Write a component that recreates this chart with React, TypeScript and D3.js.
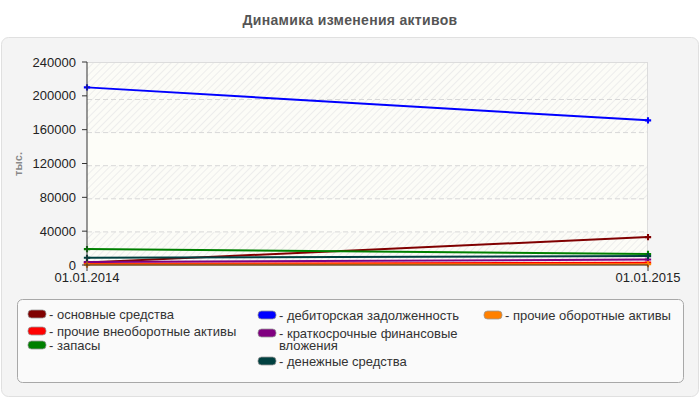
import React from "react";
import * as d3 from "d3";

const dates = ["01.01.2014", "01.01.2015"];
const yTicks = [0, 40000, 80000, 120000, 160000, 200000, 240000];

const seriesNames = [
  "основные средства",
  "прочие внеоборотные активы",
  "запасы",
  "дебиторская задолженность",
  "краткосрочные финансовые вложения",
  "денежные средства",
  "прочие оборотные активы",
];
const seriesColors = ["#800000", "#ff0000", "#008000", "#0000ff", "#800080", "#004040", "#ff8000"];

const fixedAssets = [3000, 33000];
const otherNonCurrent = [1500, 2800];
const inventory = [18800, 13000];
const receivables = [210000, 171000];
const shortInvest = [3500, 6500];
const cash = [8500, 10500];
const otherCurrent = [500, 1000];

const seriesValues = [fixedAssets, otherNonCurrent, inventory, receivables, shortInvest, cash, otherCurrent];

// legend layout (positions only)
const legendPos = [
  { x: 28, y: 314, lines: 1 },
  { x: 28, y: 331, lines: 1 },
  { x: 28, y: 345, lines: 1 },
  { x: 258, y: 315, lines: 1 },
  { x: 258, y: 333, lines: 2 },
  { x: 258, y: 361, lines: 1 },
  { x: 484, y: 315, lines: 1 },
];

const FONT = "'Liberation Sans', Arial, sans-serif";

export default function App() {
  const left = 87, right = 648, top = 62, bottom = 265;
  const x = d3.scalePoint<string>().domain(dates).range([left, right]);
  const y = d3.scaleLinear().domain([0, 240000]).range([bottom, top]);
  const g = d3.scaleLinear().domain([0, 240000]).range([bottom, bottom - 6 * 33.1]);
  const line = d3
    .line<number>()
    .x((_, i) => x(dates[i]) as number)
    .y((v) => y(v));
  const cross = d3.symbol().type(d3.symbolCross).size(22)() as string;

  const hatchBands = [
    [top, g(160000)],
    [g(120000), g(80000)],
    [g(40000), g(0)],
  ];

  return (
    <svg width={700} height={400} style={{ position: "absolute", left: 0, top: 0 }}>
      <defs>
        <pattern id="hatch" width={5} height={5} patternUnits="userSpaceOnUse" patternTransform="rotate(45)">
          <rect width={5} height={5} fill="#fcfcf7" />
          <line x1={0} y1={0} x2={0} y2={5} stroke="#e9e9e9" strokeWidth={1.5} />
        </pattern>
      </defs>
      <rect x={0} y={0} width={700} height={400} fill="#ffffff" />
      <text x={350} y={25} textAnchor="middle" fontFamily={FONT} fontWeight="bold" fontSize={14} letterSpacing={0.3} fill="#555">
        Динамика изменения активов
      </text>
      <rect x={1.5} y={37.5} width={697} height={359} rx={7} fill="#f4f4f4" stroke="#e0e0e0" />

      {/* plot background */}
      <rect x={left} y={top} width={right - left} height={bottom - top} fill="#fdfdf8" />
      {hatchBands.map(([a, b], i) => (
        <rect key={i} x={left} y={a} width={right - left} height={b - a} fill="url(#hatch)" />
      ))}
      <line x1={left} y1={top + 0.5} x2={right} y2={top + 0.5} stroke="#dcdcdc" />
      <line x1={right - 0.5} y1={top} x2={right - 0.5} y2={bottom} stroke="#dcdcdc" />
      {yTicks.slice(1, -1).map((t) => (
        <line key={t} x1={left} x2={right} y1={g(t)} y2={g(t)} stroke="#d8d8d8" strokeDasharray="5,3" />
      ))}

      {/* series */}
      {seriesValues.map((vals, i) => (
        <g key={i}>
          <path d={line(vals) as string} fill="none" stroke={seriesColors[i]} strokeWidth={2} />
          {vals.map((v, j) => (
            <path key={j} d={cross} transform={`translate(${x(dates[j])},${y(v)})`} fill={seriesColors[i]} />
          ))}
        </g>
      ))}

      {/* axes */}
      <line x1={left} y1={top} x2={left} y2={bottom} stroke="#333" />
      <line x1={left} y1={bottom} x2={right} y2={bottom} stroke="#333" />
      {yTicks.map((t) => (
        <g key={t}>
          <line x1={left - 5} x2={left} y1={y(t)} y2={y(t)} stroke="#333" />
          <text x={76} y={y(t) + 4.5} textAnchor="end" fontFamily={FONT} fontSize={13} fill="#222">
            {t}
          </text>
        </g>
      ))}
      {dates.map((d) => (
        <g key={d}>
          <line x1={x(d)} x2={x(d)} y1={bottom} y2={bottom + 6} stroke="#333" />
          <text x={x(d)} y={bottom + 17} textAnchor="middle" fontFamily={FONT} fontSize={13} fill="#222">
            {d}
          </text>
        </g>
      ))}
      <text
        transform="translate(22,164) rotate(-90)"
        textAnchor="middle"
        fontFamily={FONT}
        fontWeight="bold"
        fontSize={11}
        fill="#888"
      >
        тыс.
      </text>

      {/* legend */}
      <rect x={17.5} y={299.5} width={666} height={83} rx={5} fill="#fafafa" stroke="#a8a8a8" />
      {seriesNames.map((name, i) => {
        const p = legendPos[i];
        const words = name.split(" ");
        const lines = p.lines === 2 ? [words.slice(0, 2).join(" "), words.slice(2).join(" ")] : [name];
        return (
          <g key={i}>
            <rect x={p.x} y={p.y - 4} width={18} height={8} rx={3.5} fill={seriesColors[i]} stroke="#999" strokeWidth={0.8} />
            {lines.map((l, k) => (
              <text key={k} x={p.x + 21} y={p.y + 4.5 + k * 12} fontFamily={FONT} fontSize={13} fill="#333">
                {k === 0 ? "- " + l : l}
              </text>
            ))}
          </g>
        );
      })}
    </svg>
  );
}
